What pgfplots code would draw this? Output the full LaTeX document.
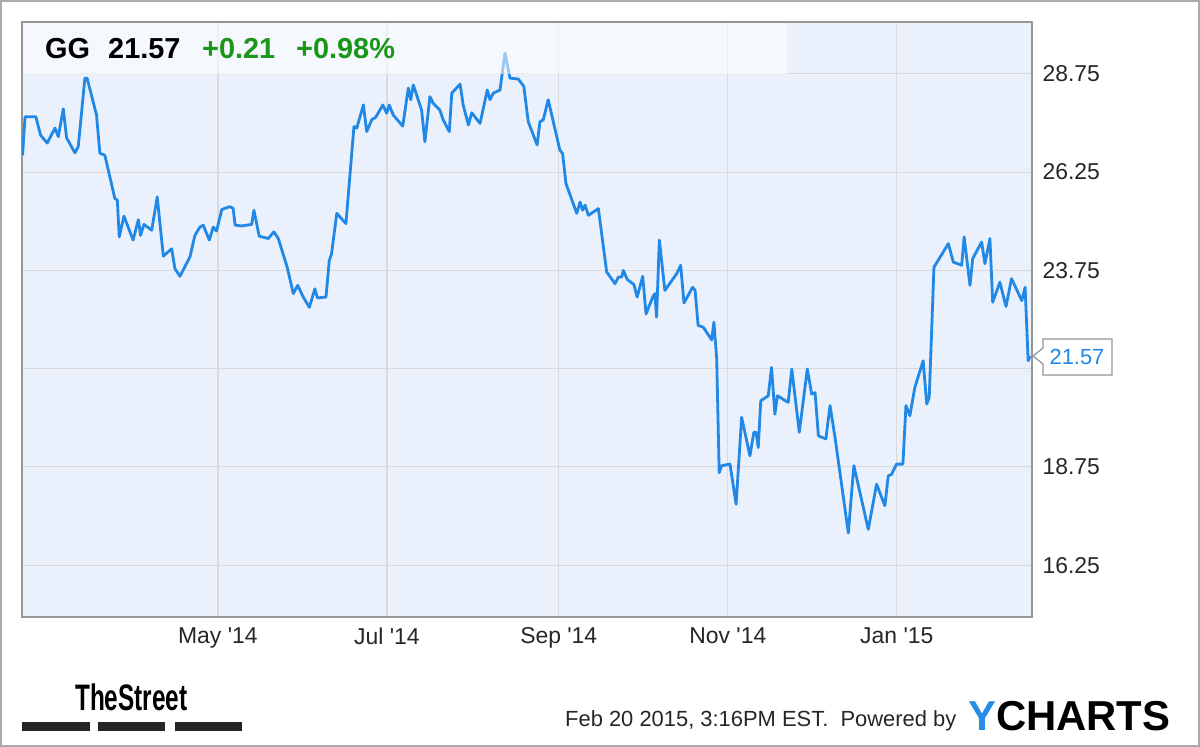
\documentclass[border=0pt]{standalone}
\usepackage{fontspec}
\setmainfont{Liberation Sans}
\newfontfamily\streetfont[FakeStretch=0.66]{Liberation Sans}
\usepackage{pgfplots}
\pgfplotsset{compat=1.18}
\definecolor{bgblue}{RGB}{234,241,252}
\definecolor{gridgray}{RGB}{218,218,218}
\definecolor{framegray}{RGB}{150,150,150}
\definecolor{lineblue}{RGB}{33,136,229}
\definecolor{upgreen}{RGB}{26,150,26}
\definecolor{ylogo}{RGB}{40,140,230}
\begin{document}
\begin{tikzpicture}[x=1bp,y=1bp]
\useasboundingbox (0,0) rectangle (1200,747);
\fill[white] (0,0) rectangle (1200,747);
\draw[framegray!80, line width=1.5bp] (1,1) rectangle (1199,746);
\begin{axis}[
  at={(22bp,130bp)}, anchor=south west,
  scale only axis, width=1010bp, height=595bp,
  xmin=-0.7, xmax=363.8, ymin=14.93, ymax=30.07,
  axis background/.style={fill=bgblue},
  axis line style={draw=framegray, line width=1.2bp},
  grid=major, major grid style={draw=gridgray, line width=1.2bp},
  tick style={draw=none},
  xtick={70,131,193,254,315},
  xticklabels={May \textquotesingle 14,Jul \textquotesingle 14,Sep \textquotesingle 14,Nov \textquotesingle 14,Jan \textquotesingle 15},
  ytick={16.25,18.75,21.25,23.75,26.25,28.75},
  yticklabels={16.25,18.75,{},23.75,26.25,28.75},
  yticklabel pos=right,
  yticklabel style={anchor=west, xshift=7bp},
  xticklabel style={yshift=-7bp},
  ticklabel style={font=\fontsize{23}{26}\selectfont, text=black!85},
  clip=true,
]
\addplot[color=lineblue, line width=2.8bp, line join=round, no markers] coordinates {
(-0.5,26.68)(0.4,27.66)(4.3,27.66)(6.0,27.19)(8.4,26.99)(11.2,27.37)(12.4,27.15)(14.2,27.86)(15.4,27.12)(18.4,26.74)(19.6,26.90)(22.0,28.64)(22.8,28.64)(26.2,27.70)(27.4,26.73)(29.2,26.68)(32.8,25.58)(33.7,25.54)(34.4,24.60)(36.1,25.13)(39.4,24.52)(41.3,25.04)(42.1,24.64)(43.3,24.92)(46.1,24.77)(48.1,25.62)(50.3,24.11)(53.3,24.30)(54.5,23.79)(56.3,23.60)(59.9,24.09)(61.7,24.64)(63.5,24.85)(64.7,24.90)(66.9,24.52)(68.3,24.85)(69.5,24.75)(71.4,25.30)(74.3,25.37)(75.5,25.33)(76.2,24.90)(78.6,24.88)(82.2,24.92)(83.0,25.28)(84.9,24.62)(88.2,24.56)(90.2,24.73)(91.8,24.56)(95.0,23.83)(97.2,23.16)(98.8,23.37)(100.8,23.07)(103.0,22.81)(105.0,23.28)(105.9,23.05)(109.0,23.07)(110.2,24.00)(111.0,24.17)(112.9,25.20)(116.2,24.94)(119.1,27.41)(120.1,27.37)(122.5,27.96)(123.7,27.28)(125.5,27.58)(127.0,27.65)(129.5,27.96)(130.9,27.75)(131.8,27.96)(133.3,27.70)(136.7,27.42)(138.7,28.39)(139.6,28.09)(140.5,28.47)(143.5,27.83)(144.7,27.02)(146.5,28.17)(147.7,28.00)(150.1,27.83)(151.3,27.58)(153.5,27.28)(154.4,28.26)(157.4,28.49)(158.5,27.96)(160.4,27.45)(161.6,27.76)(164.6,27.49)(167.2,28.34)(168.2,28.09)(169.4,28.26)(171.8,28.34)(173.6,29.28)(175.4,28.64)(178.4,28.62)(180.4,28.43)(182.0,27.53)(185.2,26.94)(186.2,27.53)(187.4,27.58)(189.2,28.09)(193.4,26.81)(194.4,26.72)(195.6,25.96)(199.5,25.20)(200.7,25.49)(201.6,25.28)(202.5,25.41)(203.7,25.15)(207.3,25.32)(210.3,23.71)(213.3,23.41)(214.5,23.58)(215.7,23.58)(216.3,23.75)(217.7,23.52)(220.1,23.39)(221.3,23.07)(223.3,23.60)(224.5,22.64)(226.9,23.07)(227.7,23.16)(228.3,22.56)(229.3,24.52)(231.3,23.24)(234.3,23.54)(235.6,23.67)(237.0,23.88)(238.2,22.92)(241.3,23.32)(242.2,23.24)(243.3,22.35)(245.2,22.30)(248.2,21.98)(249.0,22.43)(250.0,21.50)(250.9,18.60)(251.8,18.78)(254.8,18.82)(257.0,17.80)(259.0,20.01)(262.0,19.03)(263.4,19.63)(264.2,19.63)(265.0,19.24)(265.9,20.43)(268.6,20.56)(269.8,21.28)(271.0,20.09)(271.9,20.56)(275.8,20.39)(277.1,21.24)(279.8,19.63)(282.7,21.24)(284.3,20.60)(285.5,20.64)(286.7,19.54)(289.4,19.46)(290.9,20.31)(292.7,19.50)(297.5,17.07)(299.5,18.78)(304.7,17.16)(307.7,18.31)(310.7,17.76)(311.9,18.52)(313.1,18.56)(314.9,18.82)(317.2,18.82)(318.3,20.31)(319.7,20.05)(321.5,20.77)(324.5,21.45)(325.8,20.35)(326.7,20.52)(328.4,23.83)(333.6,24.43)(335.4,23.96)(338.4,23.88)(339.3,24.60)(341.4,23.37)(342.4,24.05)(345.6,24.47)(346.8,23.92)(348.6,24.56)(349.6,22.94)(352.2,23.45)(354.4,22.83)(356.4,23.54)(360.1,22.98)(361.3,23.32)(362.4,21.45)(363.1,21.57)
};
\end{axis}
% header overlay
\fill[white, opacity=0.55] (22.6,673) rectangle (787,724.4);
\node[anchor=base west, inner sep=0, font=\fontsize{29}{32}\selectfont\bfseries] at (45,688) {GG};
\node[anchor=base west, inner sep=0, font=\fontsize{29}{32}\selectfont\bfseries] at (108,688) {21.57};
\node[anchor=base west, inner sep=0, text=upgreen, font=\fontsize{29}{32}\selectfont\bfseries] at (202,688) {+0.21};
\node[anchor=base west, inner sep=0, text=upgreen, font=\fontsize{29}{32}\selectfont\bfseries] at (296,688) {+0.98\%};
% callout
\draw[framegray, fill=white, line width=1.2bp] (1033,391) -- (1043,399) -- (1043,408) -- (1112,408) -- (1112,372) -- (1043,372) -- (1043,383) -- cycle;
\node[anchor=center, inner sep=0, text=lineblue, font=\fontsize{22}{24}\selectfont] at (1077,390) {21.57};
% footer
\node[anchor=base west, inner sep=0, font=\streetfont\fontsize{37}{40}\selectfont\bfseries] at (75,36) {TheStreet};
\fill[black!85] (22,16) rectangle (90,25);
\fill[black!85] (98,16) rectangle (165,25);
\fill[black!85] (175,16) rectangle (242,25);
\node[anchor=base west, inner sep=0, font=\fontsize{22}{24}\selectfont, text=black!85] at (565,20) {Feb 20 2015, 3:16PM EST.\ \ Powered by};
\node[anchor=base west, inner sep=0, font=\fontsize{42}{44}\selectfont\bfseries] at (968,16) {\textcolor{ylogo}{Y}CHARTS};
\end{tikzpicture}
\end{document}
